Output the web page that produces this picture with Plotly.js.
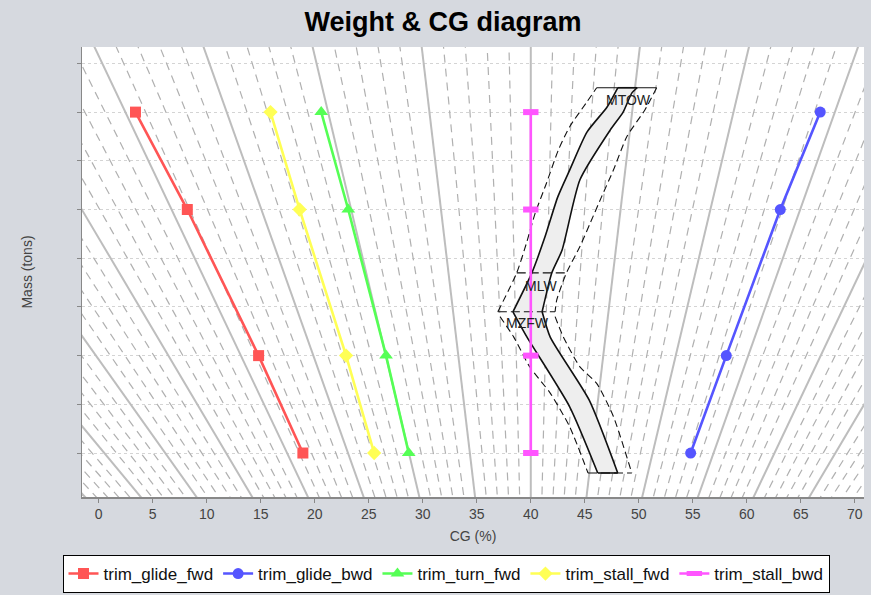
<!DOCTYPE html>
<html>
<head>
<meta charset="utf-8">
<script src="https://cdn.plot.ly/plotly-3.0.1.min.js"></script>
<style>html,body{margin:0;padding:0;background:#d6d9df;}#chart{width:871px;height:595px;}</style>
</head>
<body>
<div id="chart"></div>
<script>
// ---- series data (CG in %, mass on the chart's mass scale) ----
const massLevels     = [8, 6, 3, 1];
const trimGlideFwd   = [3.4, 8.2, 14.8, 18.9];
const trimGlideBwd   = [66.8, 63.1, 58.1, 54.8];
const trimTurnFwd    = [20.6, 23.1, 26.6, 28.7];
const trimStallFwd   = [15.9, 18.6, 22.9, 25.5];
const trimStallBwd   = [40, 40, 40, 40];
const seriesNames    = ['trim_glide_fwd', 'trim_glide_bwd', 'trim_turn_fwd', 'trim_stall_fwd', 'trim_stall_bwd'];

// ---- envelope (solid, filled): upper part MZFW..MTOW, lower part bottom..MZFW ----
const envUpFwdCG   = [38.35, 40.1, 41.3, 42.5, 43.6, 45.2, 47.05, 48.05];
const envUpFwdMass = [3.9, 4.7, 5.43, 6.26, 6.81, 7.59, 8.1, 8.5];
const envUpAftCG   = [49.85, 49.35, 48.55, 47.35, 44.55, 42.9, 41.95, 41.05];
const envUpAftMass = [8.5, 8.39, 8.0, 7.63, 6.61, 5.17, 4.7, 3.9];
const envLoFwdCG   = [46.2, 43.6, 39.65, 38.35];
const envLoFwdMass = [0.59, 1.95, 3.38, 3.9];
const envLoAftCG   = [41.05, 41.8, 45.4, 48.05];
const envLoAftMass = [3.9, 3.38, 2.09, 0.59];

// ---- envelope tolerance (dashed) ----
const tolUpFwdCG   = [36.95, 38.7, 39.6, 40.4, 41.45, 42.55, 43.6, 45.2, 46.1];
const tolUpFwdMass = [3.9, 4.7, 5.31, 5.92, 6.54, 7.22, 7.7, 8.21, 8.5];
const tolUpAftCG   = [51.65, 50.55, 48.9, 47.65, 46.55, 45.5, 44.55, 43.3, 42.4, 42.25];
const tolUpAftMass = [8.5, 8.04, 7.5, 6.81, 6.26, 5.72, 5.24, 4.7, 4.14, 3.9];
const tolLoFwdCG   = [37.15, 38.4, 39.9, 41.8, 43.6, 45.3];
const tolLoFwdMass = [3.8, 3.39, 2.77, 2.23, 1.54, 0.59];
const tolLoAftCG   = [42.25, 43.0, 44.55, 46.1, 47.65, 49.35];
const tolLoAftMass = [3.8, 3.39, 2.77, 2.43, 1.75, 0.59];

// ---- limit lines & labels ----
const limitNames  = ['MTOW', 'MLW', 'MZFW', ''];
const limitMass   = [8.5, 4.7, 3.9, 0.59];
const limitFromCG = [46.1, 38.7, 36.95, 45.3];
const limitToCG   = [51.65, 43.3, 42.25, 49.35];
const labelCG     = [49.0, 40.95, 39.7];
const labelMass   = [8.24, 4.43, 3.67];

// ---- background fan of reference lines ----
const fanFocusCG   = 40;
const fanFocusMass = -9.55;
const fanRefMass   = 9.34;
const fanStep      = 2.02;
const fanIndex     = [-46, 37];   // first/last line index
const fanMajorEvery = 5;

// ---- axes ----
const cgRange   = [-1.55, 70.85];
const massRange = [0.097, 9.337];
const cgTicks   = [0, 5, 10, 15, 20, 25, 30, 35, 40, 45, 50, 55, 60, 65, 70];
const massTicks = [1, 2, 3, 4, 5, 6, 7, 8, 9];

const colors  = ['#ff5555', '#5555ff', '#55ff55', '#ffff55', '#ff55ff'];
const symbols = ['square', 'circle', 'triangle-up', 'diamond', 'line-ew'];
const seriesVals = [trimGlideFwd, trimGlideBwd, trimTurnFwd, trimStallFwd, trimStallBwd];

const traces = [];
const skip = {hoverinfo: 'skip', showlegend: false};

// fan lines
const fanMajX = [], fanMajY = [], fanMinX = [], fanMinY = [];
const vLo = -1, vHi = 11;
for (let k = fanIndex[0]; k <= fanIndex[1]; k++) {
  const off = k * fanStep / (fanRefMass - fanFocusMass);
  const x1 = fanFocusCG + off * (vLo - fanFocusMass);
  const x2 = fanFocusCG + off * (vHi - fanFocusMass);
  if (k % fanMajorEvery === 0) { fanMajX.push(x1, x2, null); fanMajY.push(vLo, vHi, null); }
  else { fanMinX.push(x1, x2, null); fanMinY.push(vLo, vHi, null); }
}
traces.push(Object.assign({x: fanMinX, y: fanMinY, mode: 'lines', line: {color: '#b0b0b0', width: 1.2, dash: '8px,6px'}}, skip));
traces.push(Object.assign({x: fanMajX, y: fanMajY, mode: 'lines', line: {color: '#bdbdbd', width: 2}}, skip));

// envelope fill (no outline)
traces.push(Object.assign({x: envLoFwdCG.concat(envUpFwdCG.slice(1), envUpAftCG, envLoAftCG.slice(1)),
  y: envLoFwdMass.concat(envUpFwdMass.slice(1), envUpAftMass, envLoAftMass.slice(1)),
  mode: 'lines', fill: 'toself', fillcolor: '#eeeeee', line: {width: 0, color: 'rgba(0,0,0,0)', shape: 'spline', smoothing: 0.6}}, skip));

// envelope outline
const solidLine = {color: '#111111', width: 1.6, shape: 'spline', smoothing: 0.6};
[[envUpFwdCG, envUpFwdMass], [envUpAftCG, envUpAftMass], [envLoFwdCG, envLoFwdMass], [envLoAftCG, envLoAftMass]].forEach(p => {
  traces.push(Object.assign({x: p[0], y: p[1], mode: 'lines', line: solidLine}, skip));
});
traces.push(Object.assign({x: [envUpFwdCG[envUpFwdCG.length - 1], envUpAftCG[0]], y: [limitMass[0], limitMass[0]], mode: 'lines', line: {color: '#111111', width: 1.6}}, skip));
traces.push(Object.assign({x: [envLoFwdCG[0], envLoAftCG[envLoAftCG.length - 1]], y: [limitMass[3], limitMass[3]], mode: 'lines', line: {color: '#111111', width: 1.6}}, skip));

// tolerance dashed lines
const dashLine = {color: '#111111', width: 1.1, dash: '7px,4px', shape: 'spline', smoothing: 0.6};
[[tolUpFwdCG, tolUpFwdMass], [tolUpAftCG, tolUpAftMass], [tolLoFwdCG, tolLoFwdMass], [tolLoAftCG, tolLoAftMass]].forEach(p => {
  traces.push(Object.assign({x: p[0], y: p[1], mode: 'lines', line: dashLine}, skip));
});
for (let i = 0; i < limitMass.length; i++) {
  traces.push(Object.assign({x: [limitFromCG[i], limitToCG[i]], y: [limitMass[i], limitMass[i]], mode: 'lines',
    line: {color: '#111111', width: 1.1, dash: i === 0 ? 'solid' : '9px,4px'}}, skip));
}

// series
for (let i = 0; i < seriesNames.length; i++) {
  const m = {color: colors[i], size: i === 2 ? 12 : 11, symbol: symbols[i]};
  if (i === 4) m.line = {color: colors[i], width: 6};
  traces.push({x: seriesVals[i], y: massLevels, name: seriesNames[i], mode: 'lines+markers',
    line: {color: colors[i], width: 2.6}, marker: m});
}

const annotations = labelCG.map((x, i) => ({x: x, y: labelMass[i], text: limitNames[i], showarrow: false,
  font: {family: 'Liberation Sans, Arial, sans-serif', size: 14, color: '#222222'}, xanchor: 'center', yanchor: 'middle'}));

const layout = {
  width: 871, height: 595,
  paper_bgcolor: '#d6d9df', plot_bgcolor: '#ffffff',
  margin: {l: 82, r: 7, t: 47, b: 98, autoexpand: false},
  font: {family: 'Liberation Sans, Arial, sans-serif', size: 14, color: '#444444'},
  title: {text: '<b>Weight & CG diagram</b>', font: {family: 'Liberation Sans, Arial, sans-serif', size: 27, color: '#000000'},
    x: 443 / 871, xanchor: 'center', y: 1 - 22 / 595, yanchor: 'middle', yref: 'container', xref: 'container'},
  xaxis: {range: cgRange, tickvals: cgTicks, ticks: 'outside', ticklen: 4, tickcolor: '#888888',
    showline: true, linecolor: '#888888', linewidth: 1.5, showgrid: false, zeroline: false,
    tickfont: {size: 14, color: '#444444'},
    title: {text: 'CG (%)', font: {size: 14, color: '#444444'}, standoff: 10}},
  yaxis: {range: massRange, tickvals: massTicks, showticklabels: false, ticks: 'outside', ticklen: 4, tickcolor: '#888888',
    showline: true, linecolor: '#888888', linewidth: 1.5, showgrid: true, gridcolor: '#d4d4d4', griddash: '3px,3px',
    zeroline: false,
    title: {text: 'Mass (tons)', font: {size: 14, color: '#444444'}, standoff: 40}},
  legend: {orientation: 'h', x: (446 - 82) / 782, xanchor: 'center', y: (497 - 555) / 450, yanchor: 'top',
    bgcolor: '#ffffff', bordercolor: '#000000', borderwidth: 1,
    font: {size: 17, color: '#111111'}, itemwidth: 30, tracegroupgap: 0},
  annotations: annotations,
  showlegend: true
};

Plotly.newPlot('chart', traces, layout, {staticPlot: true, displayModeBar: false});
</script>
</body>
</html>
